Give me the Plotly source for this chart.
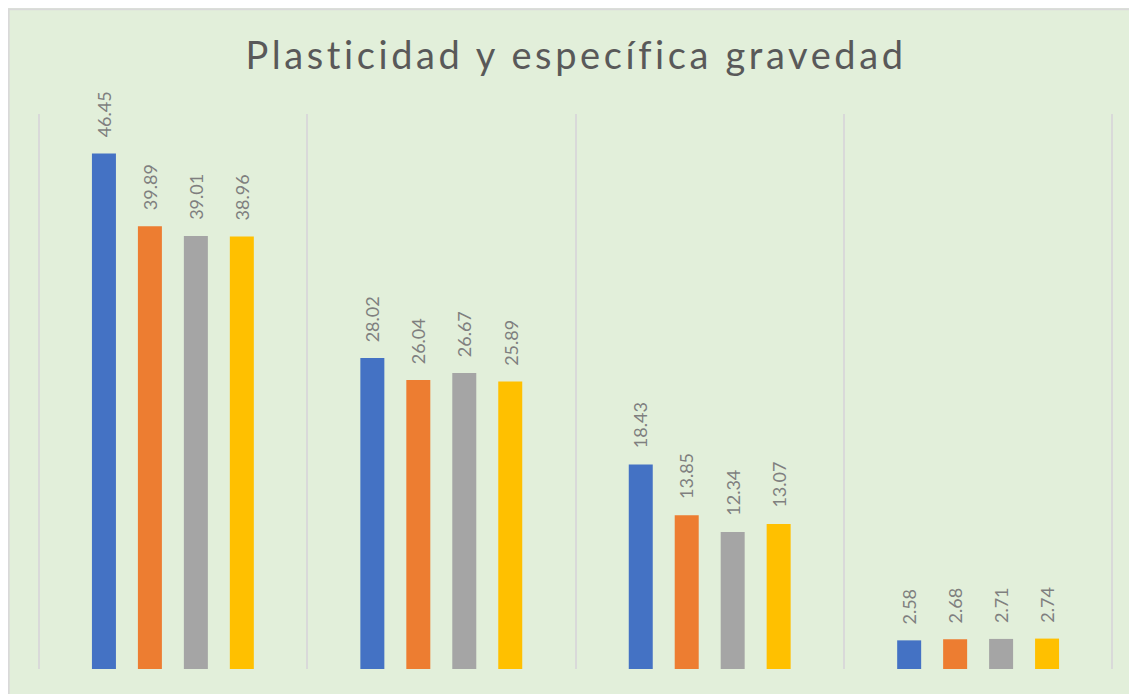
import plotly.graph_objects as go

categories = ["Límite líquido", "Límite plástico", "Índice de plasticidad", "Gravedad específica"]
series_names = ["Muestra 1", "Muestra 2", "Muestra 3", "Muestra 4"]
values_s1 = [46.45, 28.02, 18.43, 2.58]
values_s2 = [39.89, 26.04, 13.85, 2.68]
values_s3 = [39.01, 26.67, 12.34, 2.71]
values_s4 = [38.96, 25.89, 13.07, 2.74]
series_values = [values_s1, values_s2, values_s3, values_s4]
colors = ["#4472C4", "#ED7D31", "#A5A5A5", "#FFC000"]
title_text = "Plasticidad y específica gravedad"

W, H = 1137, 694
ext = 0.01
catw = 268.375
ml = 31 - ext * catw
mr = 32.5 - ext * catw
mt, mb = 105.5, 32.5
bargap = 0.315
bargroupgap = 0.478
n = len(series_values)
slot = (1 - bargap) / n

fig = go.Figure()
for name, vals, col in zip(series_names, series_values, colors):
    fig.add_trace(go.Bar(
        x=categories, y=vals, name=name,
        marker=dict(color=col, line=dict(width=0)),
        hoverinfo="x+y+name",
    ))

annotations = []
for k, vals in enumerate(series_values):
    off = (k - (n - 1) / 2) * slot
    for i, v in enumerate(vals):
        annotations.append(dict(
            x=i + off, y=v, xref="x", yref="y",
            text=f"{v:.2f}", textangle=-90, showarrow=False,
            xanchor="center", yanchor="bottom", yshift=14,
            font=dict(family="Lato", size=18, color="#7F7F7F"),
        ))

pw = W - ml - mr
ph = H - mt - mb
shapes = [dict(
    type="rect", xref="paper", yref="paper", layer="below",
    x0=(1 - ml) / pw, x1=1 + (mr + 20) / pw,
    y0=-(mb + 20) / ph, y1=1 + (mt - 0.5) / ph,
    fillcolor="rgba(0,0,0,0)", line=dict(color="#D9D9D9", width=2),
)]

fig.update_layout(
    width=W, height=H,
    margin=dict(l=ml, r=mr, t=mt, b=mb, pad=0),
    paper_bgcolor="#E2EFDA", plot_bgcolor="rgba(0,0,0,0)",
    barmode="group", bargap=bargap, bargroupgap=bargroupgap,
    showlegend=False,
    title=dict(
        text='<span style="letter-spacing:3.6px">' + title_text + '</span>',
        x=568 / W, xref="container", xanchor="center",
        y=1 - 48 / H, yref="container", yanchor="middle",
        font=dict(family="Lato", size=38, color="#595959"),
    ),
    xaxis=dict(
        type="category", range=[-0.5 - ext, len(categories) - 0.5 + ext],
        showticklabels=False, ticks="", tickson="boundaries",
        showgrid=True, gridcolor="#D9D9D9", gridwidth=1.5,
        showline=False, zeroline=False,
    ),
    yaxis=dict(
        range=[0, 50], showticklabels=False, showgrid=False,
        zeroline=False, showline=False, ticks="",
    ),
    annotations=annotations,
    shapes=shapes,
)

fig.write_html("out.html")
